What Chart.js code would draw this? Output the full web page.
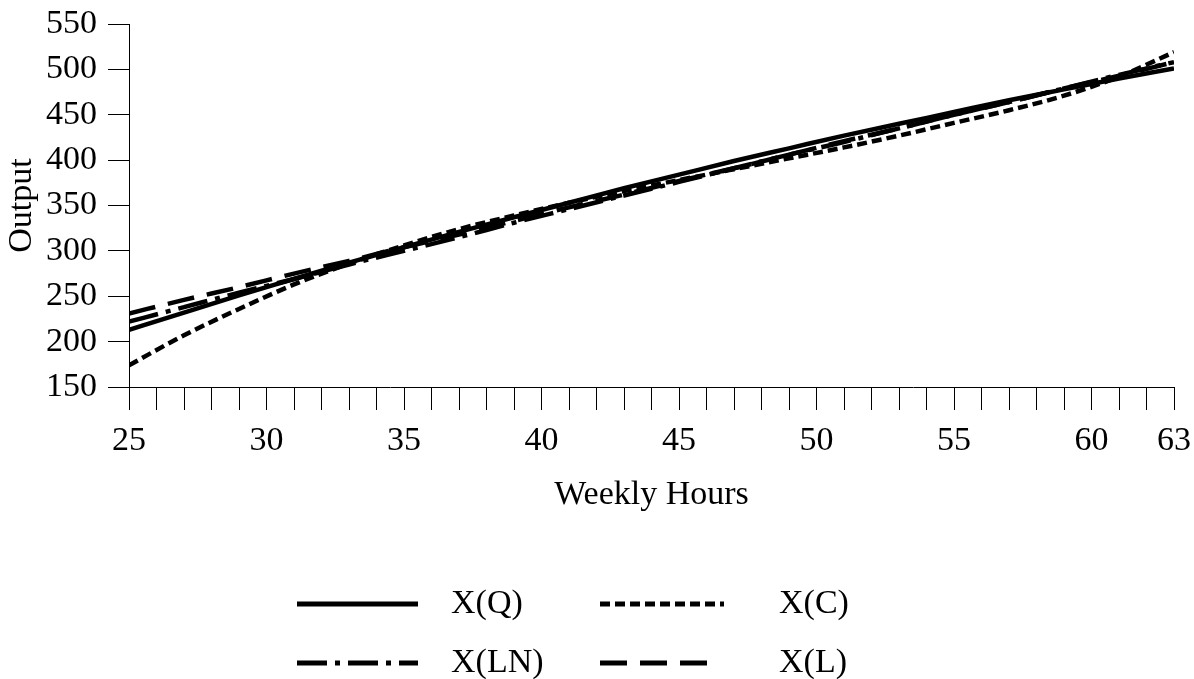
<!DOCTYPE html>
<html>
<head>
<meta charset="utf-8">
<script src="https://cdn.jsdelivr.net/npm/chart.js@4.4.1/dist/chart.umd.min.js"></script>
<style>
  html, body { margin: 0; padding: 0; background: #fff; }
  #wrap { width: 1194px; height: 679px; }
</style>
</head>
<body>
<div id="wrap"><canvas id="outChart"></canvas></div>
<script>
// values
const hours = [25, 27, 29, 31, 33, 35, 37, 39, 41, 43, 45, 47, 49, 51, 53, 55, 57, 59, 61, 63];
const outQ  = [213, 232, 251, 269, 287, 304, 321, 337, 353, 369, 384, 399, 413, 427, 440, 453, 466, 478, 490, 501];
const outC  = [174, 207, 236, 263, 286, 306, 324, 339, 353, 366, 378, 390, 402, 414, 427, 441, 455, 471, 492, 519];
const outLN = [222, 238, 254, 269, 285, 300, 315, 331, 346, 361, 376, 391, 406, 420, 435, 450, 464, 479, 494, 508];
const outL  = [231, 246, 260, 275, 289, 304, 318, 333, 348, 362, 377, 391, 406, 421, 435, 450, 464, 479, 493, 508];
const seriesNames = ['X(Q)', 'X(C)', 'X(LN)', 'X(L)'];
const xLabelled = [25, 30, 35, 40, 45, 50, 55, 60, 63];

const FONT = 'Liberation Serif';
const pts = arr => arr.map((v, i) => ({ x: hours[i], y: v }));

const dashes = [[], [10, 5], [30, 8, 5, 8], [27, 13]];
const series = [outQ, outC, outLN, outL];

const datasets = series.map((s, i) => ({
  label: seriesNames[i],
  data: pts(s),
  borderColor: '#000',
  borderWidth: 4.5,
  borderDash: dashes[i],
  borderCapStyle: 'butt',
  pointRadius: 0,
  fill: false,
  cubicInterpolationMode: 'monotone'
}));

// legend drawn under the axis title, 2 x 2
const bottomLegend = {
  id: 'bottomLegend',
  afterDraw(chart) {
    const c = chart.ctx;
    const slots = [
      { x0: 297, x1: 418, tx: 451, y: 604 },
      { x0: 600, x1: 724, tx: 779, y: 604 },
      { x0: 297, x1: 418, tx: 451, y: 663 },
      { x0: 600, x1: 712, tx: 779, y: 663 }
    ];
    c.save();
    chart.data.datasets.forEach((ds, i) => {
      const s = slots[i];
      c.strokeStyle = '#000';
      c.lineWidth = 5;
      c.lineCap = 'butt';
      c.setLineDash(ds.borderDash);
      c.beginPath();
      c.moveTo(s.x0, s.y);
      c.lineTo(s.x1, s.y);
      c.stroke();
      c.setLineDash([]);
      c.fillStyle = '#000';
      c.font = `34px "${FONT}"`;
      c.textAlign = 'left';
      c.textBaseline = 'middle';
      c.fillText(ds.label, s.tx, s.y);
    });
    c.restore();
  }
};

new Chart(document.getElementById('outChart'), {
  type: 'line',
  data: { datasets },
  plugins: [bottomLegend],
  options: {
    responsive: true,
    maintainAspectRatio: false,
    animation: false,
    layout: { padding: { top: 24, right: 20, bottom: 162, left: 0 } },
    plugins: { legend: { display: false }, tooltip: { enabled: false } },
    scales: {
      x: {
        type: 'linear',
        min: 25,
        max: 63,
        afterFit: s => { s.height = 130; s.paddingLeft = 0; s.paddingRight = 0; },
        afterBuildTicks: s => {
          s.ticks = [];
          for (let v = 25; v <= 63; v++) s.ticks.push({ value: v });
        },
        ticks: {
          autoSkip: false,
          maxRotation: 0,
          color: '#000',
          padding: 11,
          font: { family: FONT, size: 34 },
          callback: v => xLabelled.includes(v) ? String(v) : ''
        },
        grid: { drawOnChartArea: false, drawTicks: true, tickLength: 23, color: '#000', lineWidth: 1 },
        border: { display: true, color: '#000', width: 1 },
        title: { display: true, text: 'Weekly Hours', color: '#000', font: { family: FONT, size: 34 }, padding: { top: 0, bottom: 2 } }
      },
      y: {
        min: 150,
        max: 550,
        afterFit: s => { s.width = 129; s.paddingTop = 0; s.paddingBottom = 0; },
        ticks: {
          stepSize: 50,
          color: '#000',
          padding: 11,
          font: { family: FONT, size: 34 }
        },
        grid: { drawOnChartArea: false, drawTicks: true, tickLength: 21, color: '#000', lineWidth: 1 },
        border: { display: true, color: '#000', width: 1 },
        title: { display: true, text: 'Output', color: '#000', font: { family: FONT, size: 34 }, padding: { top: 2, bottom: 0 } }
      }
    }
  }
});
</script>
</body>
</html>
